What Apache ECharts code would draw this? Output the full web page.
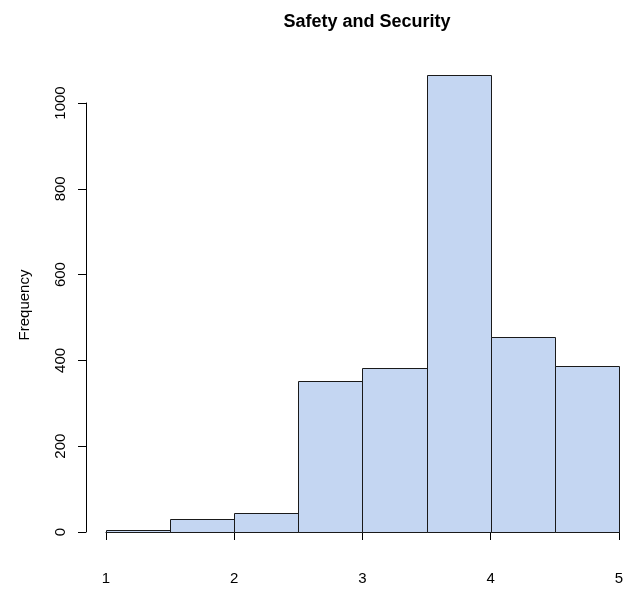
<!DOCTYPE html>
<html>
<head>
<meta charset="utf-8">
<script src="https://cdn.jsdelivr.net/npm/echarts@6/dist/echarts.min.js"></script>
<style>html,body{margin:0;padding:0;background:#fff}#c{width:626px;height:597px}</style>
</head>
<body>
<div id="c"></div>
<script>
const binStart = [1.0, 1.5, 2.0, 2.5, 3.0, 3.5, 4.0, 4.5];
const binEnd   = [1.5, 2.0, 2.5, 3.0, 3.5, 4.0, 4.5, 5.0];
const counts   = [4, 30, 44, 352, 382, 1066, 455, 387];
const xTicks = [1, 2, 3, 4, 5];
const yTicks = [0, 200, 400, 600, 800, 1000];
const titleText = 'Safety and Security';
const yName = 'Frequency';

const data = binStart.map((s, i) => [s, binEnd[i], counts[i]]);
const chart = echarts.init(document.getElementById('c'), null, {renderer: 'canvas'});
const font = 'Liberation Sans, Arial, Helvetica, sans-serif';
chart.setOption({
  animation: false,
  backgroundColor: '#ffffff',
  title: {
    text: titleText,
    left: 362, top: 8, textAlign: 'center',
    textStyle: {fontFamily: font, fontSize: 18, fontWeight: 'bold', color: '#000'}
  },
  graphic: [{
    type: 'text', x: 25, y: 305, rotation: Math.PI / 2,
    style: {text: yName, font: '15px ' + font, fill: '#000',
            textAlign: 'center', textVerticalAlign: 'middle'}
  }],
  grid: {left: 106, right: 7, top: 103, bottom: 65, containLabel: false},
  xAxis: {
    type: 'value', min: 1, max: 5, interval: 1, offset: 19,
    axisLine: {show: true, lineStyle: {color: '#000', width: 1}},
    axisTick: {show: true, length: 8, lineStyle: {color: '#000'}},
    axisLabel: {fontFamily: font, fontSize: 15, color: '#000', margin: 20,
      formatter: v => xTicks.includes(v) ? String(v) : ''},
    splitLine: {show: false}
  },
  yAxis: {
    type: 'value', min: 0, max: 1000, interval: 200, offset: 20,
    axisLine: {show: true, lineStyle: {color: '#000', width: 1}},
    axisTick: {show: true, length: 8, lineStyle: {color: '#000'}},
    axisLabel: {fontFamily: font, fontSize: 15, color: '#000', rotate: 90, margin: 18,
      formatter: v => yTicks.includes(v) ? String(v) : ''},
    splitLine: {show: false}
  },
  series: [{
    type: 'custom',
    clip: false,
    data: data,
    renderItem: function (params, api) {
      const x0 = api.value(0), x1 = api.value(1), y = api.value(2);
      const p0 = api.coord([x0, y]);
      const p1 = api.coord([x1, 0]);
      return {
        type: 'rect',
        shape: {x: Math.round(p0[0]) + 0.5, y: Math.round(p0[1]) + 0.5,
                width: Math.round(p1[0]) - Math.round(p0[0]),
                height: Math.round(p1[1]) - Math.round(p0[1])},
        style: {fill: '#c4d6f2', stroke: '#1a1a1a', lineWidth: 1}
      };
    }
  }]
});
</script>
</body>
</html>
